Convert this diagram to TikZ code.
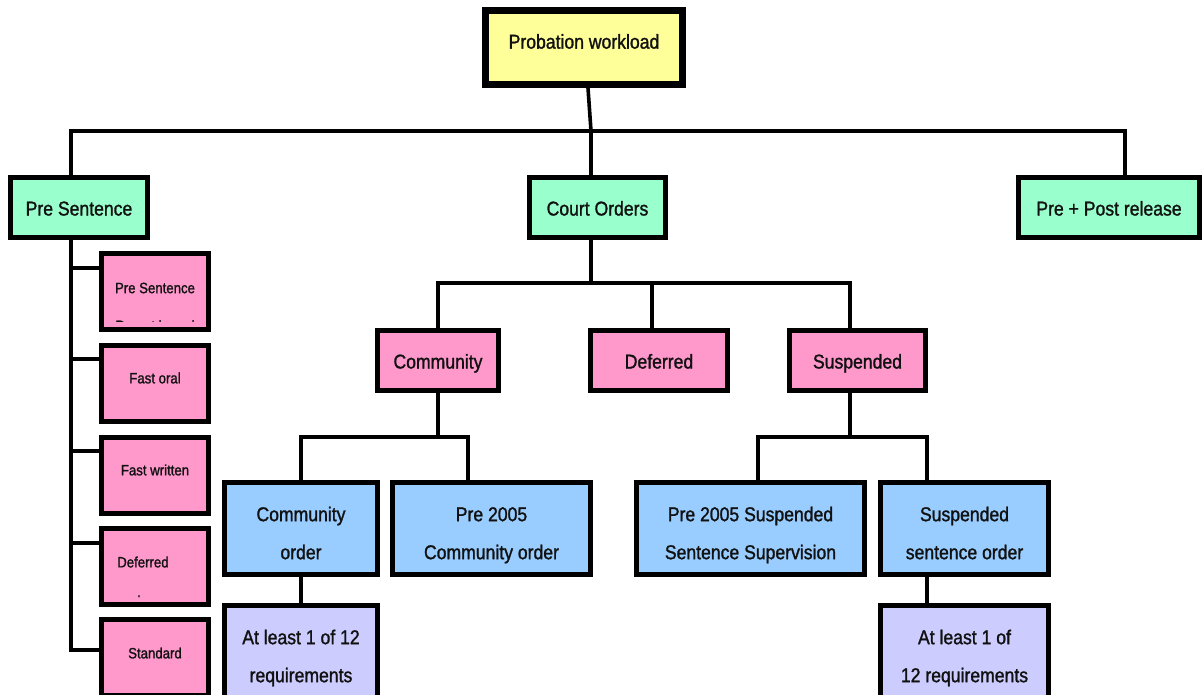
\documentclass[tikz,border=0pt]{standalone}
\usepackage{fontspec}
\setmainfont{Liberation Sans}[FakeStretch=0.88, FakeBold=1.3]
\definecolor{cyel}{HTML}{FFFF99}
\definecolor{cgrn}{HTML}{99FFCC}
\definecolor{cpnk}{HTML}{FF99CC}
\definecolor{cblu}{HTML}{99CCFF}
\definecolor{clav}{HTML}{CCCCFF}
\definecolor{ctxt}{HTML}{111111}
\newcommand\topst[1]{\rule{0pt}{#1}}
\newcommand\botst{\rule[-3.5pt]{0pt}{3.5pt}}
\begin{document}
\begin{tikzpicture}[x=0.75pt,y=-0.75pt,
  box/.style={draw=black, line width=3.75pt, inner sep=0pt, align=center,
    font=\fontsize{15}{28.5}\selectfont, text=ctxt},
  one/.style={box, text height=12pt, text depth=0pt},
  sbox/.style={box, minimum width=80.25pt, minimum height=57pt, fill=cpnk},
  stxt/.style={inner sep=0pt, font=\fontsize{11.25}{13}\selectfont, text=ctxt},
  conn/.style={line width=2.7pt, line cap=rect, line join=miter}]
\useasboundingbox (0,0) rectangle (1202,694);
\clip (0,0) rectangle (1202,694);
\fill[white] (0,0) rectangle (1202,694);

% ---- boxes ----
\node[box, line width=5.25pt, fill=cyel, minimum width=147.75pt, minimum height=55.5pt] (prob) at (584,47.5) {Probation workload\rule[-9.2pt]{0pt}{9.2pt}};
\node[one, fill=cgrn, minimum width=102.75pt, minimum height=45pt] (pres) at (79,207.5) {Pre Sentence};
\node[one, fill=cgrn, minimum width=102pt, minimum height=45pt] (court) at (597.5,207.5) {Court Orders};
\node[one, fill=cgrn, minimum width=135.75pt, minimum height=45pt] (post) at (1109,207.5) {Pre + Post release};

\node[one, fill=cpnk, minimum width=90.75pt, minimum height=45pt] (comm) at (438,360.5) {Community};
\node[one, fill=cpnk, minimum width=102.75pt, minimum height=45pt] (defr) at (659,360.5) {Deferred};
\node[one, fill=cpnk, minimum width=102pt, minimum height=45pt] (susp) at (857.5,360.5) {Suspended};

\node[box, fill=cblu, minimum width=114.75pt, minimum height=69pt] (corder) at (301,528.5) {\topst{21pt}Community\\order\botst};
\node[box, fill=cblu, minimum width=148.5pt, minimum height=69pt] (pre05c) at (491.5,528.5) {\topst{21pt}Pre 2005\\Community order\botst};
\node[box, fill=cblu, minimum width=171pt, minimum height=69pt] (pre05s) at (750.5,528.5) {\topst{21pt}Pre 2005 Suspended\\Sentence Supervision\botst};
\node[box, fill=cblu, minimum width=126pt, minimum height=69pt] (sso) at (964.5,528.5) {\topst{21pt}Suspended\\sentence order\botst};

\node[box, fill=clav, minimum width=114.75pt, minimum height=75pt] (req1) at (301,655.5) {\topst{15pt}At least 1 of 12\\requirements\botst};
\node[box, fill=clav, minimum width=126pt, minimum height=75pt] (req2) at (964.5,655.5) {\topst{15pt}At least 1 of\\12 requirements\botst};

% left column
\node[sbox] (ps1) at (155,291.5) {};
\node[sbox] (ps2) at (155,383) {};
\node[sbox] (ps3) at (155,475) {};
\node[sbox] (ps4) at (155,566.5) {};
\node[sbox] (ps5) at (155,657.5) {};

\node[stxt] (ps1t) at (155,288) {Pre Sentence};
\begin{scope}
  \clip (101,255) rectangle (209,321);
  \node[stxt, anchor=base] (ps1r) at (155,331) {Report based};
\end{scope}
\node[stxt] (ps2t) at (155,378) {Fast oral};
\node[stxt] (ps3t) at (155,470) {Fast written};
\node[stxt, anchor=west] (ps4t) at (117,562) {Deferred};
\node[stxt, anchor=base] (ps4d) at (139,597) {.};
\node[stxt] (ps5t) at (155,653) {Standard};

% ---- connectors ----
\coordinate (tb) at (591,131);
\coordinate (tbL) at (71,131);
\coordinate (tbR) at (1125,131);
\draw[conn] ([xshift=3pt]prob.south) -- (tb);
\draw[conn] (tbL) -- (tbR);
\draw[conn] (tbL) -- (tbL |- pres.north);
\draw[conn] (tb) -- (tb |- court.north);
\draw[conn] (tbR) -- (tbR |- post.north);

\coordinate (cb) at (591,283);
\coordinate (cbL) at (438,283);
\coordinate (cbM) at (652,283);
\coordinate (cbR) at (850,283);
\draw[conn] (cb |- court.south) -- (cb);
\draw[conn] (cbL) -- (cbR);
\draw[conn] (cbL) -- (comm.north);
\draw[conn] (cbM) -- (cbM |- defr.north);
\draw[conn] (cbR) -- (cbR |- susp.north);

\coordinate (mb) at (438,437);
\coordinate (mbL) at (301,437);
\coordinate (mbR) at (468,437);
\draw[conn] (comm.south) -- (mb);
\draw[conn] (mbL) -- (mbR);
\draw[conn] (mbL) -- (corder.north);
\draw[conn] (mbR) -- (mbR |- pre05c.north);

\coordinate (sb) at (850,437);
\coordinate (sbL) at (758,437);
\coordinate (sbR) at (927,437);
\draw[conn] (sb |- susp.south) -- (sb);
\draw[conn] (sbL) -- (sbR);
\draw[conn] (sbL) -- (sbL |- pre05s.north);
\draw[conn] (sbR) -- (sbR |- sso.north);

\draw[conn] (corder.south) -- (req1.north);
\draw[conn] (sbR |- sso.south) -- (sbR |- req2.north);

\coordinate (lb) at (71,650);
\draw[conn] (tbL |- pres.south) -- (lb) -- (lb -| ps5.west);
\draw[conn] (71,268) -- (ps1.west |- 0,268);
\draw[conn] (71,359) -- (ps2.west |- 0,359);
\draw[conn] (71,451) -- (ps3.west |- 0,451);
\draw[conn] (71,543) -- (ps4.west |- 0,543);
\end{tikzpicture}
\end{document}
